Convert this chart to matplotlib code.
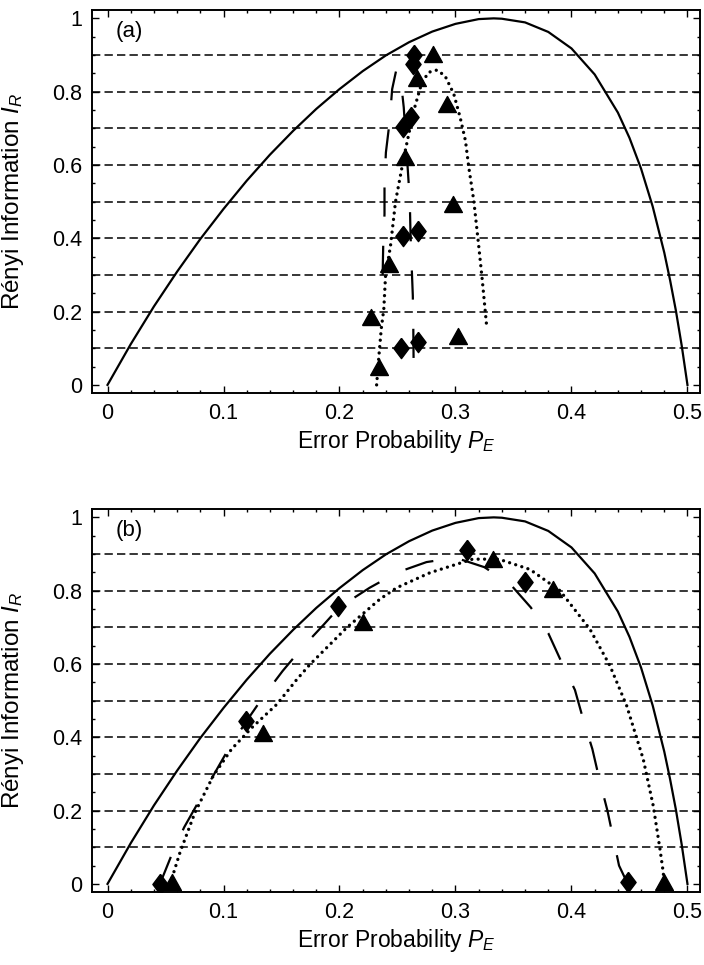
import matplotlib
matplotlib.use("Agg")
import matplotlib.pyplot as plt
from matplotlib.ticker import MultipleLocator, FuncFormatter

plt.rcParams['font.family'] = ['Liberation Sans', 'DejaVu Sans']
plt.rcParams['mathtext.fontset'] = 'custom'
plt.rcParams['mathtext.rm'] = 'Liberation Sans'
plt.rcParams['mathtext.it'] = 'Liberation Sans:italic'
plt.rcParams['lines.scale_dashes'] = False

# Upper bound of the Renyi information versus error probability
bound_pe = [0.0, 0.02, 0.04, 0.06, 0.08, 0.10, 0.12, 0.14, 0.16, 0.18, 0.20,
            0.22, 0.24, 0.26, 0.28, 0.30, 0.32, 0.333, 0.34, 0.36, 0.38, 0.40,
            0.42, 0.44, 0.45, 0.46, 0.47, 0.48, 0.485, 0.49, 0.495, 0.5]
bound_ir = [0.0, 0.111, 0.214, 0.309, 0.398, 0.480, 0.557, 0.628, 0.693, 0.753,
            0.807, 0.856, 0.899, 0.935, 0.964, 0.985, 0.998, 1.0, 0.999, 0.989,
            0.963, 0.918, 0.847, 0.743, 0.674, 0.590, 0.487, 0.361, 0.286,
            0.203, 0.108, 0.0]

# Panel (a): measured points
a_diamond_pe = [0.2642, 0.2631, 0.2614, 0.2545, 0.2545, 0.2679, 0.2528, 0.2679]
a_diamond_ir = [0.900, 0.875, 0.732, 0.703, 0.407, 0.420, 0.100, 0.116]
a_triangle_pe = [0.2803, 0.2671, 0.2929, 0.2565, 0.2976, 0.2429, 0.2269, 0.3024, 0.2343]
a_triangle_ir = [0.903, 0.837, 0.766, 0.623, 0.494, 0.330, 0.184, 0.134, 0.048]

# Panel (a): fitted curves
a_dash_pe = [0.2372, 0.2377, 0.2388, 0.2388, 0.2400, 0.2433, 0.2454, 0.2490,
             0.2526, 0.2554, 0.2580, 0.2606, 0.2612, 0.2621, 0.2632, 0.2636, 0.2640]
a_dash_ir = [0.300, 0.382, 0.466, 0.550, 0.634, 0.721, 0.807, 0.860,
             0.839, 0.757, 0.630, 0.503, 0.416, 0.334, 0.244, 0.166, 0.025]
a_dot_pe = [0.2320, 0.2340, 0.2360, 0.2382, 0.2397, 0.2440, 0.2483, 0.2555,
            0.2640, 0.2710, 0.2770, 0.2840, 0.2910, 0.2985, 0.3040, 0.3086,
            0.3115, 0.3158, 0.3200, 0.3230, 0.3267]
a_dot_ir = [0.000, 0.080, 0.153, 0.207, 0.298, 0.380, 0.500, 0.621,
            0.748, 0.825, 0.853, 0.859, 0.843, 0.794, 0.730, 0.666,
            0.593, 0.502, 0.380, 0.289, 0.166]

# Panel (b): measured points
b_diamond_pe = [0.045, 0.1196, 0.1985, 0.310, 0.360, 0.4485]
b_diamond_ir = [0.0, 0.445, 0.758, 0.911, 0.824, 0.005]
b_triangle_pe = [0.056, 0.134, 0.220, 0.332, 0.384, 0.480]
b_triangle_ir = [0.005, 0.413, 0.715, 0.887, 0.804, 0.005]

# Panel (b): fitted curves
b_dash_pe = [0.045, 0.048, 0.055, 0.066, 0.079, 0.092, 0.105, 0.120, 0.135,
             0.151, 0.168, 0.186, 0.200, 0.226, 0.250, 0.275, 0.300, 0.325,
             0.348, 0.365, 0.380, 0.391, 0.403, 0.410, 0.418, 0.424, 0.431,
             0.436, 0.441, 0.4485]
b_dash_ir = [0.0, 0.022, 0.077, 0.154, 0.227, 0.300, 0.372, 0.445, 0.514,
             0.581, 0.645, 0.706, 0.755, 0.808, 0.850, 0.878, 0.890, 0.864,
             0.815, 0.754, 0.684, 0.608, 0.529, 0.450, 0.368, 0.286, 0.200,
             0.125, 0.050, 0.0]
b_dot_pe = [0.054, 0.0625, 0.0754, 0.0912, 0.107, 0.125, 0.146, 0.163, 0.1746,
            0.2062, 0.2349, 0.2493, 0.278, 0.3147, 0.3373, 0.3642, 0.3901,
            0.4159, 0.4332, 0.4476, 0.4619, 0.4705, 0.4763, 0.4791, 0.480]
b_dot_ir = [0.0, 0.086, 0.195, 0.295, 0.368, 0.428, 0.490, 0.557, 0.599,
            0.699, 0.777, 0.808, 0.849, 0.886, 0.886, 0.858, 0.800,
            0.695, 0.595, 0.486, 0.340, 0.213, 0.095, 0.032, 0.0]

grid_levels = [0.1, 0.2, 0.3, 0.4, 0.5, 0.6, 0.7, 0.8, 0.9]
x_ticks = [0.0, 0.1, 0.2, 0.3, 0.4, 0.5]
y_ticks = [0.0, 0.2, 0.4, 0.6, 0.8, 1.0]

diamond = [(0, 1), (0.75, 0), (0, -1), (-0.75, 0), (0, 1)]
triangle = [(-1, -0.9), (1, -0.9), (0, 0.9), (-1, -0.9)]

fig = plt.figure(figsize=(7.04, 9.65), dpi=100)
ax_a = fig.add_axes([0.130, 0.5928, 0.8643, 0.3969])
ax_b = fig.add_axes([0.130, 0.0757, 0.8643, 0.3969])

tick_fmt = FuncFormatter(lambda v, pos: f"{round(v, 2):g}")


def draw_panel(ax, tag, d_pe, d_ir, t_pe, t_ir, dash_pe, dash_ir, dot_pe, dot_ir):
    for g in grid_levels:
        ax.axhline(g, color='black', lw=1.1, linestyle=(0, (6, 3)), zorder=1)
    ax.plot(bound_pe, bound_ir, color='black', lw=1.6, zorder=2)
    ax.plot(dash_pe, dash_ir, color='black', lw=1.6, linestyle=(0, (21, 21)), zorder=2)
    ax.plot(dot_pe, dot_ir, color='black', lw=2.4, linestyle=(0, (0.01, 4.6)),
            dash_capstyle='round', zorder=2)
    ax.plot(d_pe, d_ir, linestyle='none', marker=diamond, ms=14.6,
            color='black', zorder=3)
    ax.plot(t_pe, t_ir, linestyle='none', marker=triangle, ms=12.8,
            color='black', zorder=3)

    ax.set_xlim(-0.0138, 0.5108)
    ax.set_ylim(-0.022, 1.023)
    ax.set_xticks(x_ticks)
    ax.set_yticks(y_ticks)
    ax.xaxis.set_minor_locator(MultipleLocator(0.02))
    ax.yaxis.set_minor_locator(MultipleLocator(0.05))
    ax.xaxis.set_major_formatter(tick_fmt)
    ax.yaxis.set_major_formatter(tick_fmt)
    ax.tick_params(which='both', direction='in', top=True, right=True,
                   labelsize=15.5, width=1.0, color='black')
    ax.tick_params(which='major', length=5, pad=7)
    ax.tick_params(which='minor', length=2.5)
    for s in ax.spines.values():
        s.set_linewidth(1.4)

    ax.set_xlabel('Error Probability $P_E$', fontsize=16.5, labelpad=3)
    ax.set_ylabel('Rényi Information $I_R$', fontsize=17.5, labelpad=6)
    ax.yaxis.set_label_coords(-0.108, 0.5)
    ax.text(0.0185, 0.965, tag, fontsize=16, ha='center', va='center')


draw_panel(ax_a, '(a)', a_diamond_pe, a_diamond_ir, a_triangle_pe, a_triangle_ir,
           a_dash_pe, a_dash_ir, a_dot_pe, a_dot_ir)
draw_panel(ax_b, '(b)', b_diamond_pe, b_diamond_ir, b_triangle_pe, b_triangle_ir,
           b_dash_pe, b_dash_ir, b_dot_pe, b_dot_ir)

fig.savefig('out.png', dpi=100)
